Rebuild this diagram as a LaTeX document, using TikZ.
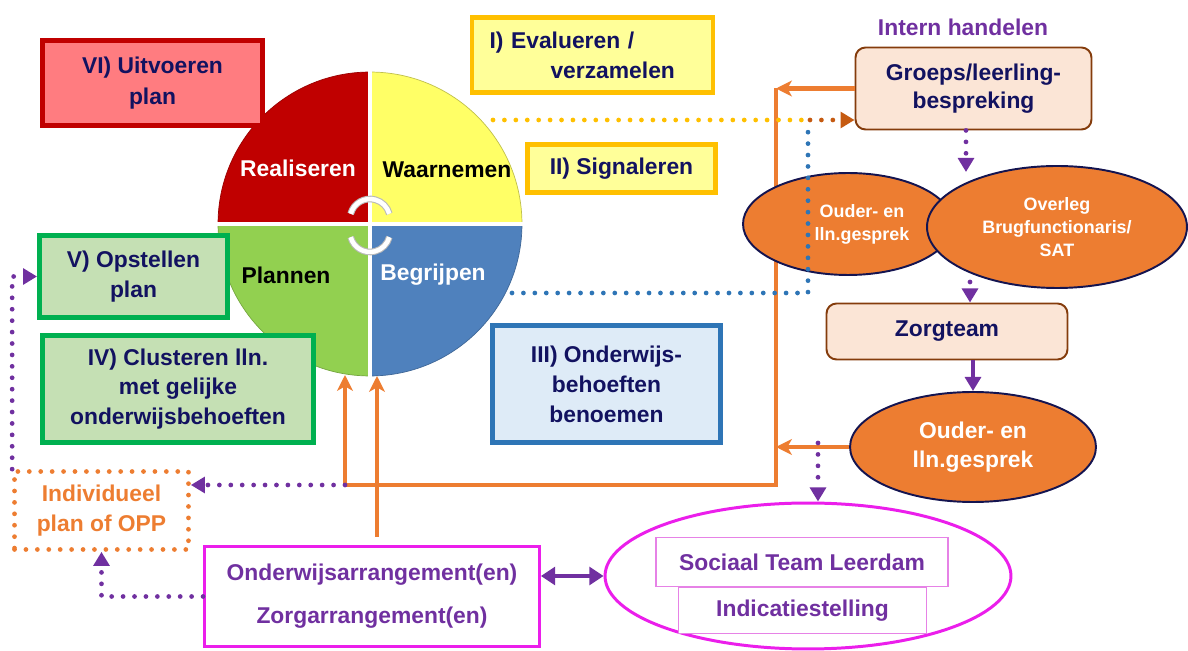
\documentclass[tikz,border=0pt]{standalone}
\usepackage{fontspec}
\setmainfont{Liberation Sans}
\usepackage{tikz}
\usetikzlibrary{arrows.meta,shapes.geometric,positioning}
\definecolor{navy}{RGB}{18,18,96}
\definecolor{qred}{RGB}{192,0,0}
\definecolor{qyel}{RGB}{255,255,102}
\definecolor{qgreen}{RGB}{146,208,80}
\definecolor{qblue}{RGB}{79,129,189}
\definecolor{redfill}{RGB}{255,124,128}
\definecolor{goldc}{RGB}{255,192,0}
\definecolor{lightyel}{RGB}{255,255,153}
\definecolor{blueline}{RGB}{46,117,182}
\definecolor{lightblue}{RGB}{222,235,247}
\definecolor{greenline}{RGB}{0,176,80}
\definecolor{lightgreen}{RGB}{197,224,180}
\definecolor{orangec}{RGB}{237,125,49}
\definecolor{brownc}{RGB}{132,60,12}
\definecolor{darkorange}{RGB}{197,90,17}
\definecolor{purplec}{RGB}{112,48,160}
\definecolor{magentac}{RGB}{235,30,235}
\definecolor{lightmag}{RGB}{230,130,230}
\definecolor{peach}{RGB}{251,229,214}
\definecolor{ovalline}{RGB}{20,20,80}
\tikzset{
  box/.style={draw,line width=2.8pt,align=center,inner sep=0pt,text=navy,
    font=\bfseries\fontsize{13}{17}\selectfont},
  oval/.style={ellipse,draw=ovalline,line width=1.1pt,fill=orangec,text=white,
    align=center,inner sep=0pt,font=\bfseries\fontsize{13}{16.5}\selectfont},
  smalltext/.style={font=\bfseries\fontsize{10.2}{13}\selectfont},
  quadtext/.style={font=\bfseries\fontsize{13}{16}\selectfont},
  loopa/.style={draw=gray!55,double=white,line width=0.6pt,double distance=2.6pt},
  orangearrow/.style={draw=orangec,line width=2.3pt,-{Stealth[length=9pt,width=9pt,inset=2.5pt]}},
  orangeline/.style={draw=orangec,line width=2.3pt},
  dots/.style={line width=2.7pt,line cap=round,dash pattern=on 0pt off 6.5pt},
  tip/.style={-{Triangle[length=8pt,width=9pt]}},
  purpledot/.style={dots,draw=purplec,tip},
  purplearrow/.style={draw=purplec,line width=2.5pt,tip},
  purpledouble/.style={draw=purplec,line width=2.5pt,{Triangle[length=8pt,width=10pt]}-{Triangle[length=8pt,width=10pt]}}
}
\begin{document}
\begin{tikzpicture}[x=0.02cm,y=-0.02cm]
\useasboundingbox (0,0) rectangle (1188,651);
%circle
\coordinate (cyc) at (370,224);
\filldraw[fill=qred,draw=qred!80!black,thin](cyc)--++(-3.04cm,0)arc[start angle=180,end angle=90,radius=3.04cm]--cycle;
\filldraw[fill=qyel,draw=qyel!75!black,thin](cyc)--++(0,3.04cm)arc[start angle=90,end angle=0,radius=3.04cm]--cycle;
\filldraw[fill=qblue,draw=qblue!80!black,thin](cyc)--++(3.04cm,0)arc[start angle=0,end angle=-90,radius=3.04cm]--cycle;
\filldraw[fill=qgreen,draw=qgreen!80!black,thin](cyc)--++(0,-3.04cm)arc[start angle=270,end angle=180,radius=3.04cm]--cycle;
\draw[white,line width=2.5pt]([xshift=-3.1cm]cyc)--([xshift=3.1cm]cyc);
\draw[white,line width=2.5pt]([yshift=-3.1cm]cyc)--([yshift=3.1cm]cyc);
\draw[loopa]([yshift=0.1cm]cyc)++(165:0.4cm)arc[start angle=165,end angle=15,radius=0.4cm];
\draw[loopa]([yshift=-0.16cm]cyc)++(195:0.4cm)arc[start angle=195,end angle=345,radius=0.4cm];
\node[quadtext,text=white] (real) at (298,168) {Realiseren};
\node[quadtext,text=black] (waar) at (447,170) {Waarnemen};
\node[quadtext,text=black] (plan) at (286,275) {Plannen};
\node[quadtext,text=white] (begr) at (433,275) {Begrijpen};
%boxes
\node[box,draw=qred,fill=redfill,minimum width=4.4cm,minimum height=1.7cm,font=\bfseries\fontsize{13}{18}\selectfont] (uitv) at (152.5,83) {VI) Uitvoeren\\plan};
\node[box,draw=goldc,fill=lightyel,minimum width=4.82cm,minimum height=1.5cm,text width=4.12cm,align=left,inner xsep=0.35cm] (eval) at (592.5,55) {I) Evalueren /\\\hspace*{1.22cm}verzamelen};
\node[box,draw=goldc,fill=lightyel,minimum width=3.76cm,minimum height=0.96cm] (sign) at (621.5,168.5) {II) Signaleren};
\node[box,draw=blueline,fill=lightblue,minimum width=4.56cm,minimum height=2.34cm] (behoef) at (606.5,384) {III) Onderwijs-\\behoeften\\benoemen};
\node[box,draw=greenline,fill=lightgreen,minimum width=3.76cm,minimum height=1.64cm] (opst) at (133.5,276.5) {V) Opstellen\\plan};
\node[box,draw=greenline,fill=lightgreen,minimum width=5.42cm,minimum height=2.14cm] (clust) at (178,389) {IV) Clusteren lln.\\met gelijke\\onderwijsbehoeften};
\node[box,dots,draw=orangec,text=orangec,minimum width=3.48cm,minimum height=1.56cm] (indiv) at (101.5,510.5) {Individueel\\plan of OPP};
\node[box,draw=magentac,line width=1.7pt,text=purplec,minimum width=6.7cm,minimum height=2cm,font=\bfseries\fontsize{13}{24.4}\selectfont] (arrang) at (372,596.5) {Onderwijsarrangement(en)\\Zorgarrangement(en)};
%team
\node[ellipse,draw=magentac,line width=1.7pt,minimum width=8.12cm,minimum height=2.92cm,inner sep=0pt] (team) at (808,576) {};
\node[box,draw=lightmag,fill=white,line width=1pt,text=purplec,minimum width=5.84cm,minimum height=0.98cm] (sociaal) at (802,562) {Sociaal Team Leerdam};
\node[box,draw=lightmag,fill=white,line width=1pt,text=purplec,minimum width=4.96cm,minimum height=0.92cm] (indic) at (802.5,610.5) {Indicatiestelling};
%orange lines
\coordinate (oc1) at (776,88.5);
\coordinate (oc2) at (776,485);
\coordinate (oc3) at (345,485);
\coordinate (oc4) at (345,375);
\coordinate (oa1) at (377,537);
\coordinate (oa2) at (377,376);
\draw[orangeline](oc1)--(oc2)--(oc3);
\draw[orangearrow](oc3)--(oc4);
\draw[orangearrow](oa1)--(oa2);
%intern handelen
\node[font=\bfseries\fontsize{13}{16}\selectfont,text=purplec] (intern) at (963,27) {Intern handelen};
\node[box,draw=brownc,fill=peach,line width=1.1pt,rounded corners=0.2cm,minimum width=4.72cm,minimum height=1.64cm,font=\bfseries\fontsize{13}{16}\selectfont] (groeps) at (973.5,88.5) {Groeps/leerling-\\bespreking};
\node[oval,minimum width=4.2cm,minimum height=2.04cm] (ouderA) at (848,224) {};
\node[smalltext,text=white,align=center] (ouderAtxt) at ([xshift=0.28cm]ouderA.center) {Ouder- en\\lln.gesprek};
\node[oval,smalltext,minimum width=5.2cm,minimum height=2.44cm] (overleg) at (1057,227) {Overleg\\Brugfunctionaris/\\SAT};
\node[box,draw=brownc,fill=peach,line width=1.1pt,rounded corners=0.2cm,minimum width=4.82cm,minimum height=1.12cm] (zorg) at (947,331.5) {Zorgteam};
\node[oval,minimum width=4.92cm,minimum height=2.2cm] (ouderC) at (973,447) {Ouder- en\\lln.gesprek};
\draw[orangearrow](groeps.west)--(oc1);
\draw[orangearrow](ouderC.west)--(ouderC.west-|oc1);
%dotted lines
\coordinate (yd1) at (493,120);
\coordinate (yd2) at (810,120);
\draw[dots,draw=goldc](yd1)--(yd2);
\draw[dots,draw=darkorange,tip](yd2)--(yd2-|groeps.west);
\coordinate (bd1) at (512,293);
\coordinate (bd2) at (808,293);
\coordinate (bd3) at (808,128);
\draw[dots,draw=blueline](bd1)--(bd2)--(bd3);
\coordinate (pd1) at (966,172);
\coordinate (pd2) at (970,282);
\coordinate (pd3) at (818,443);
\draw[purpledot](groeps.south-|pd1)--(pd1);
\draw[purpledot](pd2)--(pd2|-zorg.north);
\draw[purplearrow](zorg.south-|ouderC.north)--(ouderC.north);
\draw[purpledot](pd3)--(pd3|-team.north);
\draw[purpledot](oc3)--(oc3-|indiv.east);
\draw[purpledot](indiv.north west)|-(opst.west);
\draw[purpledot](arrang.west)-|(indiv.south);
\draw[purpledouble](arrang.east|-team.west)--(team.west);
\end{tikzpicture}
\end{document}
